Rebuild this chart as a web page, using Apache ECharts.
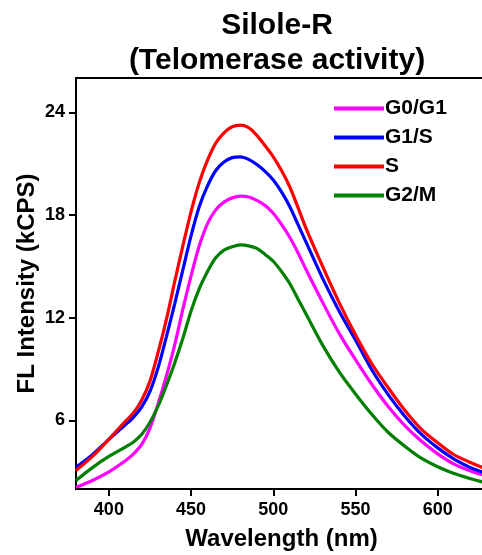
<!DOCTYPE html>
<html>
<head>
<meta charset="utf-8">
<script src="https://cdn.jsdelivr.net/npm/echarts@6/dist/echarts.min.js"></script>
<style>html,body{margin:0;padding:0;background:#fff;overflow:hidden}#c{width:482px;height:555px}</style>
</head>
<body>
<div id="c"></div>
<script>
var wavelength = [380,390,400,410,415,420,425,430,435,440,445,450,455,460,465,470,475,480,485,490,495,500,505,510,515,520,530,540,550,560,570,580,590,600,610,620,630];
var g0g1 = [2.1,2.5,3.0,3.65,4.05,4.6,5.55,7.0,8.6,10.4,12.5,14.45,16.2,17.5,18.3,18.75,19.0,19.1,19.05,18.85,18.55,18.1,17.45,16.7,15.8,14.8,12.9,11.1,9.55,8.1,6.8,5.7,4.8,4.05,3.45,3.05,2.75];
var g1s = [3.27,4.0,4.9,5.75,6.2,6.8,7.7,9.1,10.9,12.8,14.8,16.8,18.5,19.7,20.6,21.1,21.35,21.4,21.25,20.95,20.55,20.05,19.35,18.5,17.45,16.4,14.3,12.4,10.7,8.95,7.5,6.25,5.2,4.4,3.75,3.25,2.9];
var sPhase = [3.08,3.9,4.9,5.95,6.45,7.2,8.3,10.0,11.9,14.1,16.2,18.2,19.9,21.2,22.2,22.8,23.15,23.25,23.1,22.65,22.05,21.4,20.6,19.65,18.45,17.2,15.0,12.9,11.0,9.3,7.9,6.6,5.5,4.7,4.0,3.55,3.15];
var g2m = [2.5,3.25,3.9,4.45,4.75,5.2,5.9,6.85,8.05,9.35,10.8,12.4,13.7,14.7,15.5,15.95,16.15,16.25,16.2,16.05,15.7,15.3,14.7,14.0,13.1,12.2,10.4,8.85,7.55,6.35,5.3,4.5,3.8,3.3,2.9,2.6,2.35];
var xTicks = [400,450,500,550,600];
var yTicks = [6,12,18,24];
var seriesNames = ['G0/G1','G1/S','S','G2/M'];
var seriesData = [g0g1, g1s, sPhase, g2m];
var colors = ['#FF00FF','#0000FF','#FF0000','#008000'];

function pairs(ys){ return wavelength.map(function(x,i){ return [x, ys[i]]; }); }

var font = 'Liberation Sans, Arial, sans-serif';
var chart = echarts.init(document.getElementById('c'));
chart.setOption({
  animation: false,
  title: {
    text: 'Silole-R\n(Telomerase activity)',
    left: 272, top: 3, textAlign: 'center',
    textStyle: {fontFamily: font, fontWeight: 'bold', fontSize: 30, lineHeight: 35, color: '#000'}
  },
  legend: {
    orient: 'vertical', left: 329, top: 93,
    itemWidth: 50, itemHeight: 4, itemGap: 8, icon: 'rect',
    textStyle: {fontFamily: font, fontWeight: 'bold', fontSize: 21, lineHeight: 21, color: '#000', padding: [0,0,0,-4]},
    data: seriesNames
  },
  grid: {left: 76, top: 78, height: 411, width: 411, show: true, borderColor: '#000', borderWidth: 2, containLabel: false, outerBoundsMode: 'none'},
  xAxis: {
    type: 'value', min: 380, max: 630,
    name: 'Wavelength (nm)', nameLocation: 'middle', nameGap: 38, nameMoveOverlap: false,
    nameTextStyle: {fontFamily: font, fontWeight: 'bold', fontSize: 24, color: '#000'},
    axisLine: {lineStyle: {color: '#000', width: 2}},
    axisTick: {show: true, customValues: xTicks, length: 7, lineStyle: {color: '#000', width: 2}},
    axisLabel: {customValues: xTicks, margin: 12, fontFamily: font, fontWeight: 'bold', fontSize: 18, color: '#000'},
    splitLine: {show: false}
  },
  yAxis: {
    type: 'value', min: 2, max: 26,
    name: 'FL Intensity (kCPS)', nameLocation: 'middle', nameGap: 37, nameMoveOverlap: false,
    nameTextStyle: {fontFamily: font, fontWeight: 'bold', fontSize: 24, color: '#000'},
    axisLine: {lineStyle: {color: '#000', width: 2}},
    axisTick: {show: true, customValues: yTicks, length: 7, lineStyle: {color: '#000', width: 2}},
    axisLabel: {customValues: yTicks, margin: 11, fontFamily: font, fontWeight: 'bold', fontSize: 18, color: '#000'},
    splitLine: {show: false}
  },
  series: seriesNames.map(function(n, i){
    return {
      name: n, type: 'line', data: pairs(seriesData[i]), smooth: 0.3, showSymbol: false,
      lineStyle: {color: colors[i], width: 3.2}, itemStyle: {color: colors[i]}, clip: true
    };
  })
});
</script>
</body>
</html>
